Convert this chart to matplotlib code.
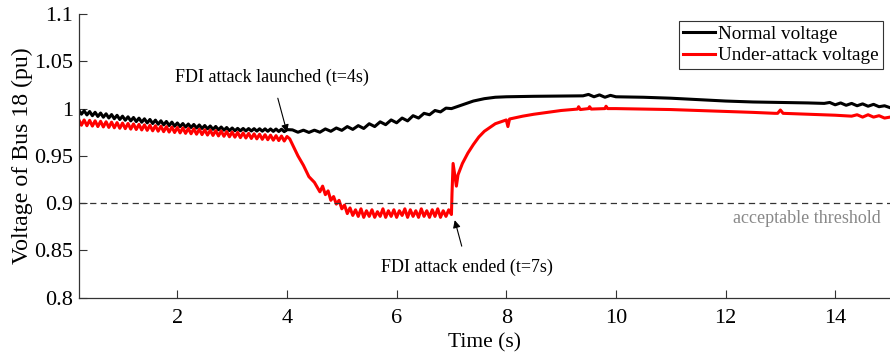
import matplotlib.pyplot as plt

plt.rcParams['font.family'] = ['Liberation Serif', 'DejaVu Serif']

# normal voltage (pu)
t_norm = [0.2, 0.25, 0.3, 0.35, 0.4, 0.45, 0.5, 0.55, 0.6, 0.65, 0.7, 0.75, 0.8, 0.85, 0.9, 0.95,
          1.0, 1.05, 1.1, 1.15, 1.2, 1.25, 1.3, 1.35, 1.4, 1.45, 1.5, 1.55, 1.6, 1.65, 1.7, 1.75,
          1.8, 1.85, 1.9, 1.95, 2.0, 2.05, 2.1, 2.15, 2.2, 2.25, 2.3, 2.35, 2.4, 2.45, 2.5, 2.55,
          2.6, 2.65, 2.7, 2.75, 2.8, 2.85, 2.9, 2.95, 3.0, 3.05, 3.1, 3.15, 3.2, 3.25, 3.3, 3.35,
          3.4, 3.45, 3.5, 3.55, 3.6, 3.65, 3.7, 3.75, 3.8, 3.85, 3.9, 3.95, 4.0,
          4.1, 4.2, 4.3, 4.4, 4.5, 4.6, 4.7, 4.8, 4.9, 5.0, 5.1, 5.2, 5.3, 5.4, 5.5, 5.6, 5.7, 5.8,
          5.9, 6.0, 6.1, 6.2, 6.3, 6.4, 6.5, 6.6, 6.7, 6.8, 6.9, 7.0,
          7.2, 7.4, 7.6, 7.8, 8.0, 8.5, 9.0, 9.4, 9.5, 9.6, 9.7, 9.8, 9.9, 10.0, 10.5, 11.0, 11.5,
          12.0, 12.5, 13.0, 13.5, 13.8, 13.9, 14.0, 14.1, 14.2, 14.3, 14.4, 14.5, 14.6, 14.7, 14.8,
          14.9, 15.0]
v_norm = [0.9985, 0.9941, 0.9977, 0.9933, 0.9969, 0.9925, 0.9961, 0.9917, 0.9953, 0.9909,
          0.9945, 0.9901, 0.9937, 0.9893, 0.9929, 0.9885, 0.992, 0.9877, 0.9913, 0.987, 0.9906,
          0.9863, 0.9899, 0.9856, 0.9892, 0.9849, 0.9885, 0.9842, 0.9878, 0.9835, 0.9871, 0.9828,
          0.9864, 0.9821, 0.9857, 0.9814, 0.9848, 0.981, 0.9842, 0.9805, 0.9837, 0.98, 0.9832,
          0.9795, 0.9827, 0.979, 0.9821, 0.9786, 0.9816, 0.9781, 0.9811, 0.9776, 0.9805, 0.9772,
          0.98, 0.9767, 0.9795, 0.9766, 0.9791, 0.9765, 0.979, 0.9764, 0.9789, 0.9763, 0.9788,
          0.9762, 0.9787, 0.9761, 0.9786, 0.976, 0.9785, 0.9759, 0.9784, 0.9758, 0.9782, 0.9756,
          0.9778,
          0.9775, 0.975, 0.9772, 0.9748, 0.9772, 0.975, 0.9785, 0.976, 0.9795, 0.977, 0.981, 0.978,
          0.982, 0.979, 0.984, 0.981, 0.986, 0.983, 0.988, 0.985, 0.99, 0.987, 0.9925, 0.99,
          0.995, 0.9935, 0.998, 0.9965, 1.0005, 1.0,
          1.004, 1.008, 1.0105, 1.012, 1.0125, 1.013, 1.0133, 1.0135, 1.015, 1.0125, 1.0145,
          1.012, 1.014, 1.0125, 1.012, 1.011, 1.0095, 1.008, 1.007, 1.0065, 1.006, 1.0055,
          1.0065, 1.004, 1.006, 1.0035, 1.0055, 1.003, 1.005, 1.0025, 1.0045, 1.002, 1.003, 1.001]

# under-attack voltage (pu)
t_att = [0.2, 0.25, 0.3, 0.35, 0.4, 0.45, 0.5, 0.55, 0.6, 0.65, 0.7, 0.75, 0.8, 0.85, 0.9, 0.95,
         1.0, 1.05, 1.1, 1.15, 1.2, 1.25, 1.3, 1.35, 1.4, 1.45, 1.5, 1.55, 1.6, 1.65, 1.7, 1.75,
         1.8, 1.85, 1.9, 1.95, 2.0, 2.05, 2.1, 2.15, 2.2, 2.25, 2.3, 2.35, 2.4, 2.45, 2.5, 2.55,
         2.6, 2.65, 2.7, 2.75, 2.8, 2.85, 2.9, 2.95, 3.0, 3.05, 3.1, 3.15, 3.2, 3.25, 3.3, 3.35,
         3.4, 3.45, 3.5, 3.55, 3.6, 3.65, 3.7, 3.75, 3.8, 3.85, 3.9, 3.95, 4.0,
         4.05, 4.1, 4.15, 4.2, 4.3, 4.4, 4.5, 4.6, 4.65, 4.7, 4.75, 4.8, 4.85, 4.9, 4.95, 5.0,
         5.05, 5.1, 5.15, 5.2, 5.25, 5.3, 5.35, 5.4, 5.45, 5.5, 5.55, 5.6, 5.65, 5.7, 5.75, 5.8,
         5.85, 5.9, 5.95, 6.0, 6.05, 6.1, 6.15, 6.2, 6.25, 6.3, 6.35, 6.4, 6.45, 6.5, 6.55, 6.6,
         6.65, 6.7, 6.75, 6.8, 6.85, 6.9, 6.95, 7.0,
         7.01, 7.03, 7.06, 7.09, 7.12, 7.2, 7.3, 7.4, 7.5, 7.6, 7.7, 7.8, 7.9, 8.0, 8.03, 8.06,
         8.3, 8.5, 9.0, 9.3, 9.32, 9.35, 9.5, 9.52, 9.55, 9.8, 9.82, 9.85, 10.0, 10.5, 11.0, 11.5,
         12.0, 12.5, 12.9, 12.95, 13.0, 13.05, 13.5, 14.0, 14.3, 14.4, 14.5, 14.6, 14.7, 14.8,
         14.9, 15.0]
v_att = [0.9885, 0.9824, 0.988, 0.9819, 0.9876, 0.9815, 0.9871, 0.981, 0.9866, 0.9806, 0.9861,
         0.9801, 0.9857, 0.9797, 0.9852, 0.9792, 0.9847, 0.9788, 0.9843, 0.9783, 0.9838, 0.9779,
         0.9833, 0.9774, 0.9828, 0.977, 0.9824, 0.9765, 0.9819, 0.9761, 0.9814, 0.9756, 0.9809,
         0.9752, 0.9805, 0.9747, 0.98, 0.9743, 0.9795, 0.9738, 0.979, 0.9734, 0.9786, 0.9729,
         0.9781, 0.9725, 0.9776, 0.972, 0.9771, 0.9716, 0.9767, 0.9711, 0.9762, 0.9707, 0.9757,
         0.9702, 0.9752, 0.9698, 0.9748, 0.9693, 0.9743, 0.9689, 0.9738, 0.9684, 0.9733, 0.968,
         0.9729, 0.9675, 0.9724, 0.9671, 0.9719, 0.9666, 0.9714, 0.9662, 0.971, 0.9657, 0.9705,
         0.968, 0.962, 0.956, 0.95, 0.94, 0.928, 0.922, 0.912, 0.918, 0.909, 0.913, 0.903, 0.907,
         0.899, 0.903, 0.894, 0.898, 0.889, 0.895,
         0.887, 0.893, 0.886, 0.894, 0.885, 0.892, 0.886, 0.893, 0.885, 0.891, 0.886, 0.894,
         0.885, 0.892, 0.886, 0.893, 0.885, 0.892, 0.887, 0.894, 0.885, 0.893, 0.886, 0.892,
         0.885, 0.894, 0.886, 0.892, 0.885, 0.893, 0.886, 0.894, 0.885, 0.892, 0.886, 0.893,
         0.888,
         0.91, 0.942, 0.93, 0.918, 0.93, 0.942, 0.953, 0.962, 0.97, 0.976, 0.98, 0.984, 0.986,
         0.988, 0.981, 0.989, 0.992, 0.994, 0.998, 0.9995, 1.002, 0.999, 1.0, 1.002, 0.9995,
         1.0, 1.0025, 1.0, 1.0, 0.9995, 0.999, 0.998, 0.997, 0.996, 0.995, 0.995, 0.9985, 0.995,
         0.994, 0.993, 0.992, 0.9935, 0.991, 0.9935, 0.991, 0.9925, 0.990, 0.991]

threshold = 0.9
x_ticks = [2, 4, 6, 8, 10, 12, 14]
y_ticks = [0.8, 0.85, 0.9, 0.95, 1.0, 1.05, 1.1]
y_labels = ['0.8', '0.85', '0.9', '0.95', '1', '1.05', '1.1']

fig = plt.figure(figsize=(8.9, 3.6), dpi=100)
ax = fig.add_axes([0.0884, 0.173, 0.9116, 0.788])

ax.plot(t_norm, v_norm, color='black', lw=2.2, label='Normal voltage')
ax.plot(t_att, v_att, color='red', lw=2.2, label='Under-attack voltage')
ax.axhline(threshold, color='#333333', lw=0.9, ls=(0, (5, 3.5)))

ax.text(14.84, 0.884, 'acceptable threshold', color='#888888', fontsize=13,
        ha='right', va='center')

ax.annotate('FDI attack launched (t=4s)', xy=(4.0, 0.975), xytext=(3.73, 1.033),
            fontsize=13, ha='center', va='center',
            arrowprops=dict(arrowstyle='-|>', color='black', lw=0.8,
                            mutation_scale=11, shrinkA=7, shrinkB=0))
ax.annotate('FDI attack ended (t=7s)', xy=(7.06, 0.882), xytext=(7.29, 0.8325),
            fontsize=13, ha='center', va='center',
            arrowprops=dict(arrowstyle='-|>', color='black', lw=0.8,
                            mutation_scale=11, shrinkA=7, shrinkB=0))

ax.set_xlim(0.2, 15)
ax.set_ylim(0.8, 1.1)
ax.set_xticks(x_ticks)
ax.set_yticks(y_ticks)
ax.set_yticklabels(y_labels)
ax.tick_params(direction='in', length=6, width=0.8, labelsize=16, color='#333333')
ax.tick_params(axis='x', pad=8)
ax.tick_params(axis='y', pad=4)
for s in ['top', 'right']:
    ax.spines[s].set_visible(False)
for s in ['left', 'bottom']:
    ax.spines[s].set_color('#333333')
    ax.spines[s].set_linewidth(0.9)

ax.set_xlabel('Time (s)', fontsize=15.5, labelpad=4)
ax.set_ylabel('Voltage of Bus 18 (pu)', fontsize=17.2)
ax.yaxis.set_label_coords(-0.056, 0.5)

leg = ax.legend(loc='upper right', bbox_to_anchor=(0.9915, 0.975), fontsize=13.8,
                frameon=True, fancybox=False, edgecolor='#333333', framealpha=1,
                handlelength=1.7, handletextpad=0.15, borderpad=0.22, labelspacing=0.22,
                borderaxespad=0)
leg.get_frame().set_linewidth(0.8)

fig.savefig('out.png', dpi=100)
